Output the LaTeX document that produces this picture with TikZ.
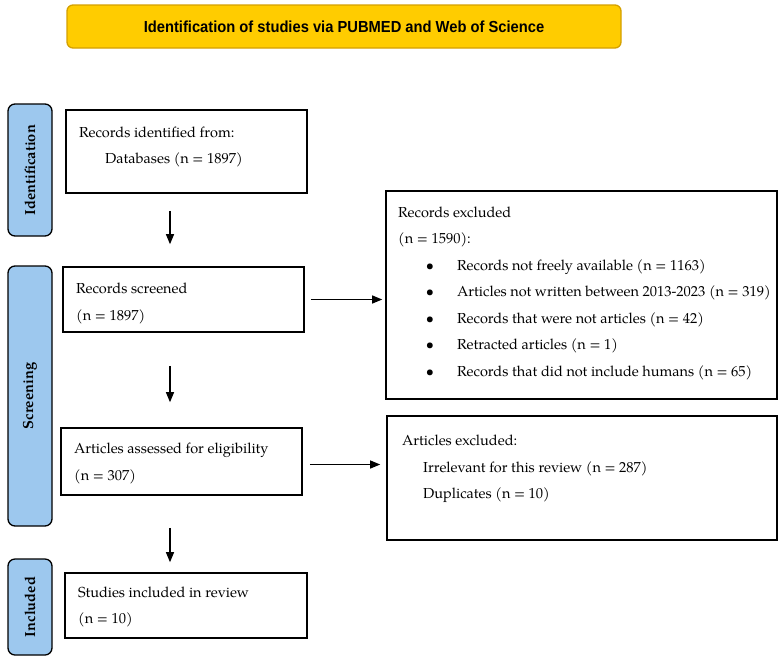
\documentclass[tikz,border=0pt]{standalone}
\usepackage{fontspec}
\setmainfont{TeX Gyre Pagella}
\newfontfamily\titlefont[FakeStretch=0.92]{Liberation Sans}
\usetikzlibrary{arrows.meta}
\definecolor{titlefill}{HTML}{FFCC00}
\definecolor{titleline}{HTML}{D4A000}
\definecolor{tabfill}{HTML}{9DC8EE}
\tikzset{
  box/.style={draw=black, line width=1.6pt, inner sep=0pt},
  tabbox/.style={draw=black, line width=1.3pt, fill=tabfill, rounded corners=7pt,
    rotate=90, minimum height=44pt, inner sep=0pt, font=\fontsize{14.6}{16}\selectfont\bfseries},
  txt/.style={anchor=base west, inner sep=0pt, font=\fontsize{14.5}{17}\selectfont},
  arr/.style={line width=1.1pt, -{Triangle[length=10pt,width=8pt]}}
}
\begin{document}
\begin{tikzpicture}[x=1pt,y=-1pt]
    \useasboundingbox (0,0) rectangle (783,662);
    % header
    \node[draw=titleline, fill=titlefill, line width=1.3pt, rounded corners=6pt,
      minimum width=554pt, minimum height=43pt, font=\titlefont\fontsize{16}{18}\selectfont\bfseries]
      (title) at (344,26.5) {Identification of studies via PUBMED and Web of Science};
    % stage tabs
    \node[tabbox, minimum width=132pt] (tid) at (30,170) {Identification};
    \node[tabbox, minimum width=260pt] (tscr) at (30,396) {Screening};
    \node[tabbox, minimum width=96pt] (tinc) at (30,607) {Included};
    % main boxes
    \node[box, minimum width=241pt, minimum height=83pt] (b1) at (186.5,151.5) {};
    \node[txt] (b1a) at (79,137) {Records identified from:};
    \node[txt] (b1b) at (105,163) {Databases (n = 1897)};
    \node[box, minimum width=241pt, minimum height=65pt] (b2) at (183.5,299.5) {};
    \node[txt] (b2a) at (76,293) {Records screened};
    \node[txt] (b2b) at (76,320) {(n = 1897)};
    \node[box, minimum width=241pt, minimum height=67pt] (b3) at (181.5,461.5) {};
    \node[txt] (b3a) at (74,453) {Articles assessed for eligibility};
    \node[txt] (b3b) at (74,480) {(n = 307)};
    \node[box, minimum width=242pt, minimum height=65pt] (b4) at (186,605.5) {};
    \node[txt] (b4a) at (78,597) {Studies included in review};
    \node[txt] (b4b) at (78,623) {(n = 10)};
    % exclusion boxes
    \node[box, minimum width=391pt, minimum height=208pt] (x1) at (581.5,295) {};
    \node[txt] (x1a) at (398,217) {Records excluded};
    \node[txt] (x1b) at (398,243) {(n = 1590):};
    \foreach \item [count=\i] in {Records not freely available (n = 1163),
        Articles not written between 2013-2023 (n = 319),
        Records that were not articles (n = 42),
        Retracted articles (n = 1),
        Records that did not include humans (n = 65)} {
      \node[txt, anchor=base] (x1d\i) at (430,{270+26.6*(\i-1)}) {\textbullet};
      \node[txt] (x1i\i) at (457,{270+26.6*(\i-1)}) {\item};
    }
    \node[box, minimum width=390pt, minimum height=124pt] (x2) at (582,478) {};
    \node[txt] (x2a) at (402,445) {Articles excluded:};
    \node[txt] (x2b) at (423,472) {Irrelevant for this review (n = 287)};
    \node[txt] (x2c) at (423,498) {Duplicates (n = 10)};
    % connectors
    \coordinate (spine) at (170,0);
    \draw[arr, shorten <=17pt, shorten >=22pt] (b1.south -| spine) -- (b2.north -| spine);
    \draw[arr, shorten <=33pt, shorten >=25pt] (b2.south -| spine) -- (b3.north -| spine);
    \draw[arr, shorten <=32pt, shorten >=10pt] (b3.south -| spine) -- (b4.north -| spine);
    \draw[arr, shorten <=6pt, shorten >=3pt] (b2.east) -- (b2.east -| x1.west);
    \draw[arr, shorten <=7pt, shorten >=6pt] ([yshift=-3pt]b3.east) -- ([yshift=-3pt]b3.east -| x2.west);
\end{tikzpicture}
\end{document}
